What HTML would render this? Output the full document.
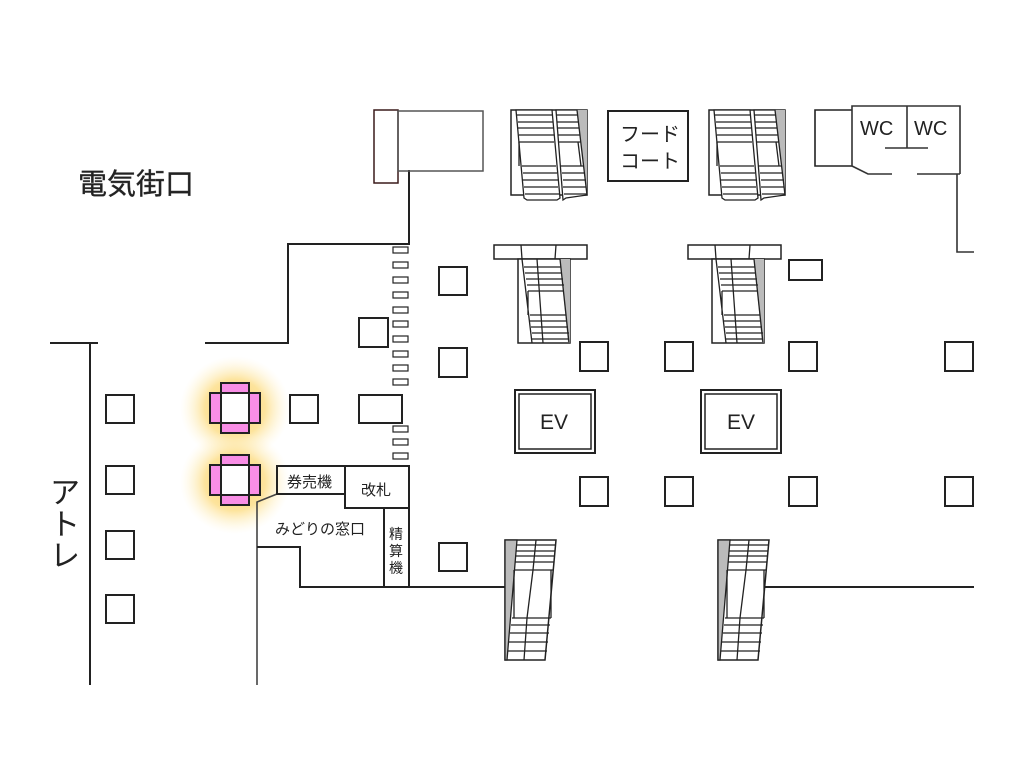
<!DOCTYPE html>
<html><head><meta charset="utf-8"><style>
html,body{margin:0;padding:0;background:#fff;}
svg{display:block}
text{font-family:"Liberation Sans","Noto Sans CJK JP",sans-serif;fill:#222}
</style></head><body>
<svg width="1024" height="768" viewBox="0 0 1024 768" xmlns="http://www.w3.org/2000/svg">
<defs>
<radialGradient id="glow" cx="50%" cy="50%" r="50%">
<stop offset="0" stop-color="#fbd063" stop-opacity="0.95"/>
<stop offset="0.55" stop-color="#fcd873" stop-opacity="0.7"/>
<stop offset="1" stop-color="#fff3cc" stop-opacity="0"/>
</radialGradient>
<g id="escTop">
<rect x="0" y="0" width="76" height="85" fill="#fff" stroke="#222" stroke-width="1.5"/>
<polygon points="66,0 76,0 76,85" fill="#bbb"/>
<polygon points="5,0 41,0 49,88 46,90 16,90 13,88" fill="#fff" stroke="#222" stroke-width="1.3"/>
<polygon points="45,0 66,0 76,85 55,88 52,90" fill="#fff" stroke="#222" stroke-width="1.3"/>
<path d="M6,5 H41 M7,12 H42 M7,18 H42 M8,25 H43 M8,32 H43 M46,5 H67 M46,12 H67 M47,18 H68 M47,25 H69 M48,32 H70 M8,32 V56 M11,56 H45 M12,63 H46 M12,70 H47 M13,77 H47 M14,84 H48 M50,56 H73 M51,63 H74 M52,70 H75 M52,77 H75 M53,84 H76 M67,32 L70,56" fill="none" stroke="#222" stroke-width="1.3"/>
</g>
<g id="escMid">
<rect x="0" y="0" width="93" height="14" fill="#fff" stroke="#222" stroke-width="1.5"/>
<path d="M27,0 L28,14 M62,0 L61,14" stroke="#222" stroke-width="1.3"/>
<rect x="24" y="14" width="52" height="84" fill="#fff" stroke="#222" stroke-width="1.5"/>
<polygon points="66,14 76,14 76,98 74,98" fill="#bbb"/>
<path d="M28,14 L38,98 M43,14 L49,98 M66,14 L75,98 M30,22 H67 M31,28 H68 M32,34 H69 M33,40 H70 M34,46 H70 M36,70 H72 M36,76 H73 M37,82 H74 M38,88 H75 M38,94 H75 M34,46 V70" fill="none" stroke="#222" stroke-width="1.3"/>
</g>
<g id="escBot">
<polygon points="0,0 51,0 40,120 0,120" fill="#fff" stroke="#222" stroke-width="1.5"/>
<polygon points="0,0 12,0 2,120 0,120" fill="#bbb" stroke="#222" stroke-width="1.3"/>
<path d="M31,0 L28,30 M19,120 L22,78 M11,5 H50 M11,11 H50 M10,16 H49 M10,22 H49 M9,30 H48 M28,30 L22,78 M9,30 V78 M46,30 V78 M7,78 H46 M6,85 H45 M5,93 H44 M4,102 H43 M3,111 H42" fill="none" stroke="#222" stroke-width="1.3"/>
</g>
<g id="cross">
<rect x="-14" y="-25" width="28" height="50" fill="#f98ee6" stroke="#222" stroke-width="2"/>
<rect x="-25" y="-15" width="50" height="30" fill="#f98ee6" stroke="#222" stroke-width="2"/>
<rect x="-14" y="-15" width="28" height="30" fill="#fff" stroke="#222" stroke-width="2"/>
</g>
</defs>

<ellipse cx="235" cy="408" rx="55" ry="52" fill="url(#glow)"/>
<ellipse cx="235" cy="482" rx="55" ry="52" fill="url(#glow)"/>

<g fill="none" stroke="#222" stroke-width="2">
<path d="M50,343 H98 M90,343 V685"/>
<path d="M205,343 H288 V244 H409 V170"/>
<path d="M257,685 V502 L277,494" stroke-width="1.6" stroke="#444"/>
<path d="M257,547 H300 V587 H505"/>
<path d="M765,587 H974"/>
<rect x="374" y="110" width="24" height="73" stroke="#3a1a1a" stroke-width="1.5"/>
<rect x="398" y="111" width="85" height="60" stroke="#555" stroke-width="1.5"/>
<rect x="106" y="395" width="28" height="28"/>
<rect x="106" y="466" width="28" height="28"/>
<rect x="106" y="531" width="28" height="28"/>
<rect x="106" y="595" width="28" height="28"/>
<rect x="290" y="395" width="28" height="28"/>
<rect x="359" y="395" width="43" height="28"/>
<rect x="359" y="318" width="29" height="29"/>
<rect x="439" y="267" width="28" height="28"/>
<rect x="439" y="348" width="28" height="29"/>
<rect x="439" y="543" width="28" height="28"/>
<rect x="580" y="342" width="28" height="29"/>
<rect x="665" y="342" width="28" height="29"/>
<rect x="789" y="342" width="28" height="29"/>
<rect x="945" y="342" width="28" height="29"/>
<rect x="580" y="477" width="28" height="29"/>
<rect x="665" y="477" width="28" height="29"/>
<rect x="789" y="477" width="28" height="29"/>
<rect x="945" y="477" width="28" height="29"/>
<rect x="789" y="260" width="33" height="20"/>
<rect x="277" y="466" width="68" height="28"/>
<rect x="345" y="466" width="64" height="42"/>
<rect x="384" y="508" width="25" height="79"/>
<rect x="608" y="111" width="80" height="70"/>
<rect x="515" y="390" width="80" height="63" stroke-width="2"/>
<rect x="519" y="394" width="72" height="55" stroke-width="1.5"/>
<rect x="701" y="390" width="80" height="63" stroke-width="2"/>
<rect x="705" y="394" width="72" height="55" stroke-width="1.5"/>
<path d="M852,110 H815 V166 H852" stroke-width="1.6"/>
<path d="M852,166 V106 H960 V174 M907,106 V148 M885,148 H928 M852,166 L868,174 H892 M917,174 H960 M957,174 V252 H974" stroke-width="1.6" stroke="#333"/>
</g>

<g fill="#fff" stroke="#222" stroke-width="1.2">
<rect x="393" y="247" width="15" height="6"/>
<rect x="393" y="262" width="15" height="6"/>
<rect x="393" y="277" width="15" height="6"/>
<rect x="393" y="292" width="15" height="6"/>
<rect x="393" y="307" width="15" height="6"/>
<rect x="393" y="321" width="15" height="6"/>
<rect x="393" y="336" width="15" height="6"/>
<rect x="393" y="351" width="15" height="6"/>
<rect x="393" y="365" width="15" height="6"/>
<rect x="393" y="379" width="15" height="6"/>
<rect x="393" y="426" width="15" height="6"/>
<rect x="393" y="439" width="15" height="6"/>
<rect x="393" y="453" width="15" height="6"/>
</g>

<use href="#escTop" x="511" y="110"/>
<use href="#escTop" x="709" y="110"/>
<use href="#escMid" x="494" y="245"/>
<use href="#escMid" x="688" y="245"/>
<use href="#escBot" x="505" y="540"/>
<use href="#escBot" x="718" y="540"/>

<use href="#cross" x="235" y="408"/>
<use href="#cross" x="235" y="480"/>

<text x="78" y="194" font-size="29" fill="#333" stroke="#333" stroke-width="0.4">電気街口</text>
<text x="50" y="503" font-size="30">ア</text>
<text x="50" y="535" font-size="30">ト</text>
<text x="50" y="566" font-size="30">レ</text>
<text x="287" y="487" font-size="15">券売機</text>
<text x="361" y="495" font-size="15">改札</text>
<text x="275" y="534" font-size="15">みどりの窓口</text>
<text x="389" y="539" font-size="14">精</text>
<text x="389" y="556" font-size="14">算</text>
<text x="389" y="573" font-size="14">機</text>
<text x="620" y="141" font-size="20">フード</text>
<text x="620" y="168" font-size="20">コート</text>
<text x="540" y="429" font-size="21">EV</text>
<text x="727" y="429" font-size="21">EV</text>
<text x="860" y="135" font-size="20">WC</text>
<text x="914" y="135" font-size="20">WC</text>
</svg>
</body></html>
